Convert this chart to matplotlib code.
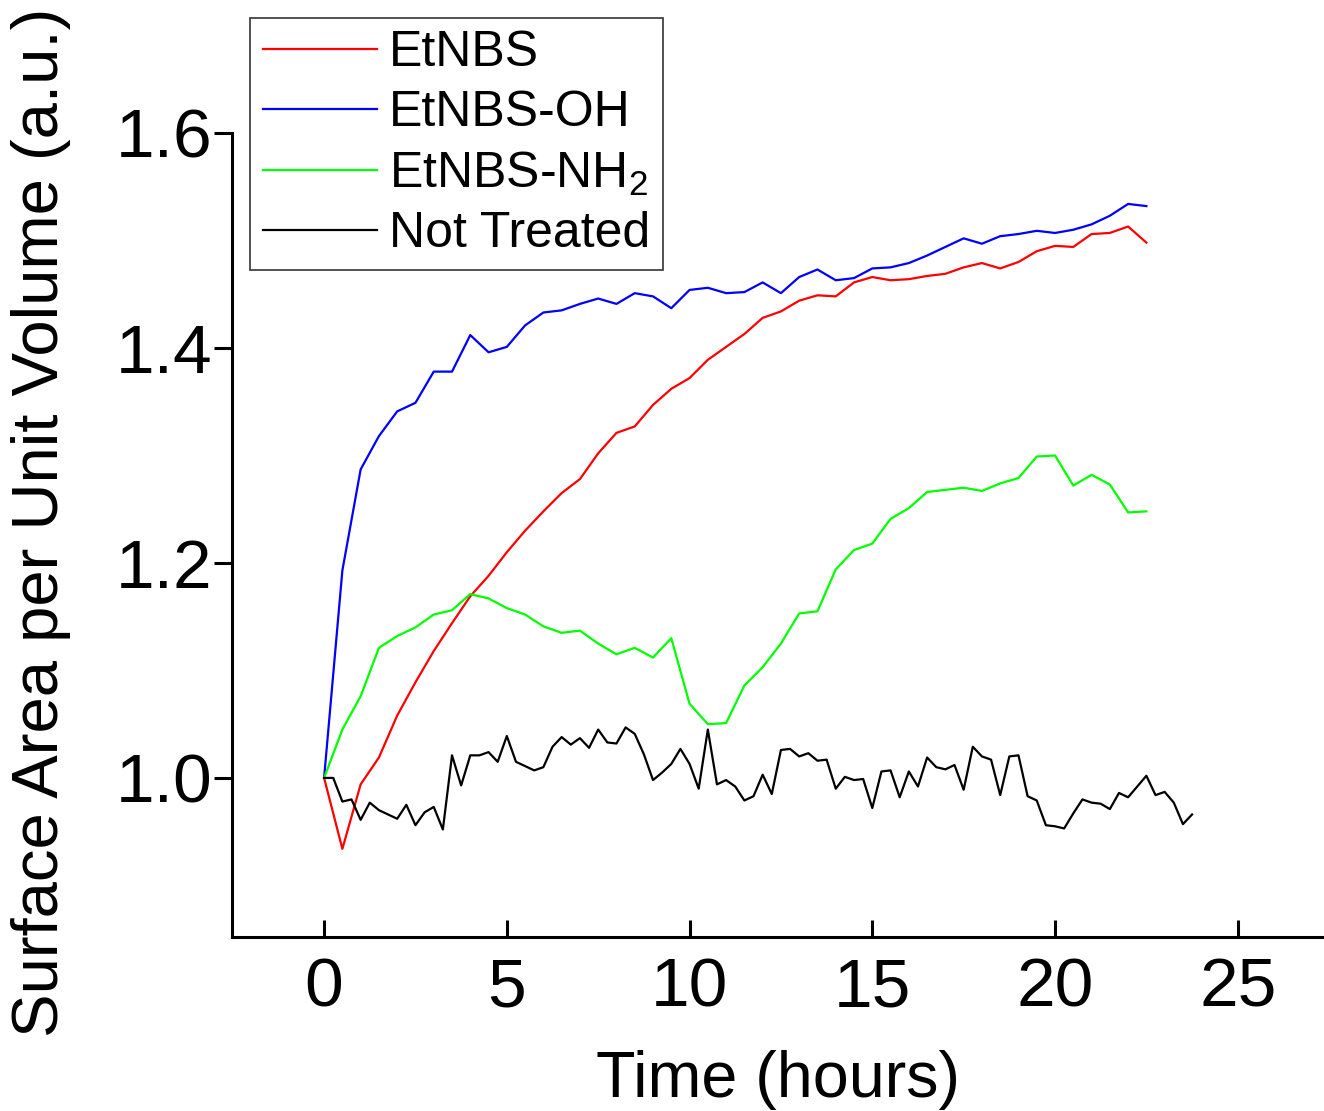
import numpy as np
import matplotlib
matplotlib.use('Agg')
import matplotlib.pyplot as plt

plt.rcParams['font.family'] = ['Liberation Sans', 'DejaVu Sans']
plt.rcParams['mathtext.fontset'] = 'custom'
plt.rcParams['mathtext.rm'] = 'Liberation Sans'
plt.rcParams['mathtext.default'] = 'regular'

# treated samples, every 0.5 h
t_half = np.arange(0, 22.51, 0.5)
etnbs = [1.000, 0.934, 0.994, 1.019, 1.058, 1.089, 1.118, 1.144, 1.169, 1.188,
         1.210, 1.230, 1.248, 1.265, 1.278, 1.302, 1.321, 1.327, 1.347, 1.362,
         1.372, 1.389, 1.401, 1.413, 1.428, 1.434, 1.444, 1.449, 1.448, 1.461,
         1.466, 1.463, 1.464, 1.467, 1.469, 1.475, 1.479, 1.474, 1.480, 1.490,
         1.495, 1.494, 1.506, 1.507, 1.513, 1.498]
etnbs_oh = [1.000, 1.193, 1.287, 1.318, 1.341, 1.349, 1.378, 1.378, 1.412, 1.396,
            1.401, 1.421, 1.433, 1.435, 1.441, 1.446, 1.441, 1.451, 1.448, 1.437,
            1.454, 1.456, 1.451, 1.452, 1.461, 1.451, 1.466, 1.473, 1.463, 1.465,
            1.474, 1.475, 1.479, 1.486, 1.494, 1.502, 1.497, 1.504, 1.506, 1.509,
            1.507, 1.510, 1.515, 1.523, 1.534, 1.532]
etnbs_nh2 = [1.000, 1.045, 1.076, 1.121, 1.132, 1.140, 1.152, 1.156, 1.171, 1.167,
             1.158, 1.152, 1.141, 1.135, 1.137, 1.125, 1.115, 1.121, 1.112, 1.130,
             1.069, 1.050, 1.051, 1.086, 1.103, 1.125, 1.153, 1.155, 1.194, 1.212,
             1.218, 1.241, 1.251, 1.266, 1.268, 1.270, 1.267, 1.274, 1.279, 1.299,
             1.300, 1.272, 1.282, 1.273, 1.247, 1.248]

# control, every 0.25 h
t_quarter = np.arange(0, 23.76, 0.25)
not_treated = [1.000, 1.000, 0.978, 0.980, 0.961, 0.977, 0.970, 0.966, 0.962, 0.975,
               0.956, 0.968, 0.973, 0.952, 1.021, 0.993, 1.021, 1.021, 1.024, 1.015,
               1.039, 1.015, 1.011, 1.007, 1.010, 1.029, 1.038, 1.031, 1.037, 1.028,
               1.045, 1.033, 1.032, 1.047, 1.041, 1.022, 0.998, 1.005, 1.013, 1.027,
               1.013, 0.990, 1.045, 0.994, 0.998, 0.992, 0.979, 0.983, 1.003, 0.985,
               1.026, 1.027, 1.020, 1.023, 1.016, 1.017, 0.990, 1.001, 0.998, 0.999,
               0.972, 1.006, 1.007, 0.982, 1.006, 0.992, 1.019, 1.010, 1.008, 1.012,
               0.989, 1.029, 1.020, 1.017, 0.984, 1.020, 1.021, 0.983, 0.979, 0.956,
               0.955, 0.953, 0.967, 0.980, 0.977, 0.976, 0.971, 0.986, 0.982, 0.992,
               1.002, 0.984, 0.987, 0.977, 0.957, 0.966]

fig = plt.figure(figsize=(13.24, 11.11), dpi=100)
ax = fig.add_axes([232 / 1324, 1 - 937 / 1111, 1 - 232 / 1324, (937 - 133) / 1111])

ax.plot(t_half, etnbs, color='#ff0000', lw=1.6, label='EtNBS')
ax.plot(t_half, etnbs_oh, color='#0000ff', lw=1.6, label='EtNBS-OH')
ax.plot(t_half, etnbs_nh2, color='#00ff00', lw=1.6, label='EtNBS-NH$_2$')
ax.plot(t_quarter, not_treated, color='black', lw=1.6, label='Not Treated')

ax.set_xlim(-2.52, 27.36)
ax.set_ylim(0.852, 1.6)
ax.set_xticks([0, 5, 10, 15, 20, 25])
ax.set_yticks([1.0, 1.2, 1.4, 1.6])
ax.set_yticklabels(['1.0', '1.2', '1.4', '1.6'])

for s in ['top', 'right']:
    ax.spines[s].set_visible(False)
for s in ['left', 'bottom']:
    ax.spines[s].set_linewidth(2.2)

ax.tick_params(axis='x', direction='in', length=12, width=2.2, labelsize=50, pad=14)
ax.tick_params(axis='y', direction='out', length=13, width=2.2, labelsize=50, pad=1)

ax.set_xlabel('Time (hours)', fontsize=46.5, labelpad=21)
ax.set_ylabel('Surface Area per Unit Volume (a.u.)', fontsize=47)
ax.yaxis.set_label_coords(-0.147, 0.516)

leg = ax.legend(loc='upper left', bbox_to_anchor=(250 / 1324, 1 - 18 / 1111),
                bbox_transform=fig.transFigure, borderaxespad=0, fontsize=36,
                handlelength=2.28, handletextpad=0.25, labelspacing=0.27,
                borderpad=0.25, fancybox=False, framealpha=1)
leg.get_frame().set_edgecolor('#333333')
leg.get_frame().set_linewidth(1.2)

fig.savefig('out.png', dpi=100)
